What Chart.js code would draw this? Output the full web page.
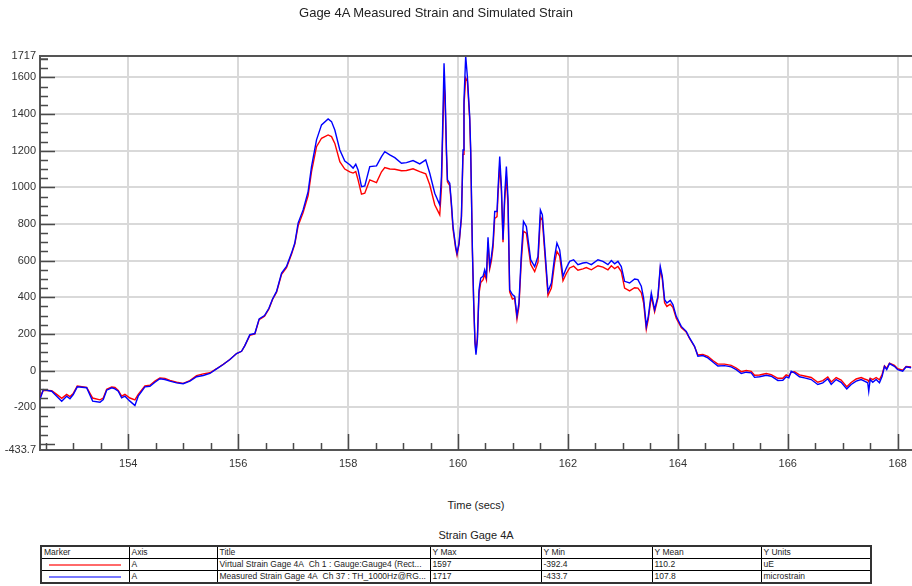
<!DOCTYPE html>
<html><head><meta charset="utf-8">
<script src="https://cdn.jsdelivr.net/npm/chart.js@4.4.1/dist/chart.umd.min.js"></script>
<style>
body{margin:0;background:#fff;font-family:"Liberation Sans",Arial,sans-serif;color:#222}
#wrap{position:relative;width:912px;height:586px;overflow:hidden}
canvas{position:absolute;left:0;top:0}
#title{position:absolute;left:0;width:872px;top:5px;text-align:center;font-size:13px}
#xt{position:absolute;left:40px;width:872px;top:499px;text-align:center;font-size:11px}
#tt{position:absolute;left:40px;width:872px;top:529px;text-align:center;font-size:11px}
table{position:absolute;left:40px;top:545px;border-collapse:collapse;font-size:8.5px;table-layout:fixed;border:2px solid #333}
td{border:1px solid #000;height:11px;padding:0 2px;white-space:nowrap;overflow:hidden;line-height:11px}
.mk{display:block;height:2px;width:72px;margin-left:5px}
</style></head>
<body><div id="wrap">
<canvas id="c" width="912" height="470"></canvas>
<div id="title">Gage 4A Measured Strain and Simulated Strain</div>
<div id="xt">Time (secs)</div>
<div id="tt">Strain Gage 4A</div>
<table>
<colgroup><col style="width:88px"><col style="width:88px"><col style="width:213px"><col style="width:111px"><col style="width:111px"><col style="width:109px"><col style="width:110px"></colgroup>
<tr><td>Marker</td><td>Axis</td><td>Title</td><td>Y Max</td><td>Y Min</td><td>Y Mean</td><td>Y Units</td></tr>
<tr><td><span class="mk" style="background:#ff6a6a"></span></td><td>A</td><td>Virtual Strain Gage 4A&nbsp; Ch 1 : Gauge:Gauge4 (Rect...</td><td>1597</td><td>-392.4</td><td>110.2</td><td>uE</td></tr>
<tr><td><span class="mk" style="background:#7a7aff"></span></td><td>A</td><td>Measured Strain Gage 4A&nbsp; Ch 37 : TH_1000Hz@RG...</td><td>1717</td><td>-433.7</td><td>107.8</td><td>microstrain</td></tr>
</table>
</div>
<script>
const times = [152.395,152.455,152.608,152.699,152.79,152.88,152.94,153.0,153.073,153.244,153.353,153.486,153.546,153.608,153.699,153.759,153.819,153.88,153.94,154.031,154.122,154.182,154.304,154.395,154.486,154.577,154.668,154.759,154.88,155.0,155.122,155.244,155.364,155.486,155.608,155.728,155.85,155.971,156.062,156.122,156.213,156.304,156.382,156.48,156.56,156.626,156.699,156.79,156.88,156.971,157.031,157.091,157.182,157.273,157.335,157.426,157.517,157.637,157.699,157.759,157.85,157.94,158.031,158.091,158.14,158.182,158.244,158.304,158.395,158.517,158.608,158.668,158.759,158.85,158.971,159.062,159.182,159.304,159.413,159.486,159.577,159.668,159.699,159.717,159.746,159.764,159.79,159.808,159.85,159.88,159.91,159.958,159.982,160.019,160.062,160.091,160.109,160.14,160.171,160.213,160.231,160.262,160.286,160.309,160.327,160.353,160.382,160.413,160.455,160.486,160.517,160.546,160.577,160.608,160.637,160.668,160.71,160.728,160.759,160.79,160.819,160.85,160.88,160.91,160.94,160.99,161.031,161.073,161.109,161.15,161.191,161.244,161.322,161.395,161.455,161.499,161.535,161.577,161.637,161.699,161.759,161.8,161.85,161.91,161.971,162.031,162.104,162.182,162.273,162.334,162.426,162.546,162.637,162.728,162.79,162.85,162.91,162.971,163.031,163.122,163.213,163.273,163.335,163.377,163.426,163.462,163.517,163.577,163.637,163.68,163.717,163.759,163.8,163.862,163.91,163.971,164.062,164.153,164.213,164.304,164.364,164.455,164.546,164.637,164.728,164.85,164.971,165.062,165.153,165.244,165.335,165.395,165.486,165.608,165.699,165.819,165.91,165.971,166.019,166.062,166.122,166.213,166.304,166.426,166.546,166.637,166.728,166.79,166.88,166.971,167.073,167.153,167.244,167.335,167.395,167.455,167.473,167.499,167.546,167.608,167.668,167.717,167.759,167.8,167.85,167.94,168.0,168.091,168.153,168.244];
const measured = [-158,-104,-113,-140,-167,-140,-154,-131,-89,-94,-167,-173,-158,-107,-94,-100,-113,-149,-140,-167,-191,-140,-89,-86,-64,-45,-49,-58,-67,-72,-58,-34,-27,-16,9,33,60,93,105,136,196,202,282,300,340,391,432,532,568,641,696,805,877,977,1113,1259,1341,1373,1359,1313,1204,1144,1123,1105,1126,1095,1004,1008,1113,1117,1168,1195,1177,1162,1132,1135,1146,1128,1150,1077,968,905,1059,1277,1677,1531,1204,1041,1023,914,786,677,641,696,841,1204,1477,1717,1604,1386,1204,659,369,151,87,169,441,505,514,550,514,728,570,623,696,868,868,990,1168,1000,714,960,1113,940,441,415,405,300,369,623,814,786,605,568,623,877,850,677,432,478,623,696,659,514,560,596,605,578,587,590,578,605,596,578,601,583,596,568,487,478,500,496,460,396,241,296,423,332,405,568,514,387,369,383,360,296,241,214,178,132,78,82,69,47,25,27,20,5,-16,-9,-13,-37,-34,-26,-31,-54,-53,-34,-40,-4,-13,-34,-40,-49,-76,-67,-45,-76,-49,-64,-100,-76,-58,-49,-58,-67,-113,-49,-64,-49,-67,-31,23,5,38,23,5,-4,20,15];
const virtualStrain = [-145,-108,-110,-130,-152,-130,-142,-125,-85,-92,-150,-160,-150,-102,-90,-92,-108,-140,-130,-150,-160,-130,-84,-80,-58,-40,-43,-54,-64,-70,-55,-28,-18,-12,10,34,60,93,105,136,192,200,278,297,336,388,428,525,562,635,690,790,862,955,1086,1222,1268,1286,1277,1240,1140,1100,1085,1078,1086,1041,963,968,1041,1026,1085,1108,1100,1099,1091,1092,1101,1086,1074,1014,905,850,1000,1230,1550,1500,1180,1030,1010,900,770,665,630,690,830,1180,1450,1597,1580,1370,1190,650,360,160,100,180,420,480,495,525,495,700,555,600,670,830,840,960,1120,980,700,930,1060,900,430,390,395,280,350,590,760,750,580,540,590,840,820,650,410,450,590,650,625,490,530,560,570,548,555,562,550,572,565,550,572,556,568,540,450,435,452,450,425,370,225,280,405,320,395,555,500,370,350,362,345,285,235,210,175,130,85,88,78,55,35,35,28,14,-6,0,-4,-26,-24,-16,-22,-42,-42,-24,-30,-10,-6,-24,-30,-38,-64,-55,-35,-62,-38,-52,-88,-65,-46,-38,-46,-52,-60,-42,-50,-38,-50,-20,25,12,40,28,10,2,22,20];
const xTickLabels = [154,156,158,160,162,164,166,168];
const yTickLabels = [-433.7,-200,0,200,400,600,800,1000,1200,1400,1600,1717];
const X_MIN = 152.395, X_MAX = 168.26, Y_MIN = -433.7, Y_MAX = 1717;

const FONT = {family:'"Liberation Sans", Arial, sans-serif', size:11};
const minorTicks = {
  id:'minorTicks',
  afterDraw(c){
    const {ctx, chartArea:a, scales:{x,y}} = c;
    ctx.save();
    ctx.strokeStyle = '#4a4a4a'; ctx.lineWidth = 1.5;
    ctx.beginPath();
    for (let v = -400; v <= 1700; v += 50) {
      const py = Math.round(y.getPixelForValue(v)) + 0.5;
      const len = (v % 200 === 0) ? 15 : 8;
      ctx.moveTo(a.left, py); ctx.lineTo(a.left + len, py);
    }
    ctx.moveTo(a.left, y.getPixelForValue(Y_MAX)+3); ctx.lineTo(a.left+8, y.getPixelForValue(Y_MAX)+3);
    for (let t = 152.5; t <= 168.001; t += 0.5) {
      const px = Math.round(x.getPixelForValue(t)) + 0.5;
      const len = xTickLabels.includes(Math.round(t*10)/10) ? 16 : 7;
      ctx.moveTo(px, a.bottom); ctx.lineTo(px, a.bottom - len);
    }
    ctx.stroke();
    ctx.lineWidth = 2; ctx.strokeStyle = '#555';
    ctx.beginPath(); ctx.moveTo(a.left, a.top); ctx.lineTo(a.right, a.top); ctx.stroke();
    ctx.restore();
  }
};

new Chart(document.getElementById('c'), {
  type:'line',
  data:{datasets:[
    {label:'Measured Strain Gage 4A', data: times.map((t,i)=>({x:t,y:measured[i]})), borderColor:'#0000ff', borderWidth:1.4, pointRadius:0, tension:0, order:0},
    {label:'Virtual Strain Gage 4A', data: times.map((t,i)=>({x:t,y:virtualStrain[i]})), borderColor:'#ff0000', borderWidth:1.4, pointRadius:0, tension:0, order:1}
  ]},
  options:{
    responsive:false, animation:false,
    layout:{padding:{top:56,left:0,right:0,bottom:0}},
    plugins:{legend:{display:false}, title:{display:false}, tooltip:{enabled:false}},
    scales:{
      x:{type:'linear', min:X_MIN, max:X_MAX,
        afterBuildTicks:s=>{s.ticks = xTickLabels.map(v=>({value:v}));},
        afterFit:s=>{s.height = 20; s.paddingLeft = 0; s.paddingRight = 0;},
        grid:{color:'#d9d9d9', lineWidth:2, drawTicks:false},
        border:{display:true, color:'#555', width:2},
        ticks:{padding:7, color:'#333', font:FONT, maxRotation:0, autoSkip:false, callback:v=>String(v)}
      },
      y:{min:Y_MIN, max:Y_MAX,
        afterBuildTicks:s=>{s.ticks = yTickLabels.map(v=>({value:v}));},
        afterFit:s=>{s.width = 40; s.paddingTop = 0; s.paddingBottom = 0;},
        grid:{color:ctx=> (ctx.tick && (ctx.tick.value===Y_MIN || ctx.tick.value===Y_MAX)) ? 'rgba(0,0,0,0)' : '#d9d9d9', lineWidth:2, drawTicks:false},
        border:{display:true, color:'#555', width:2},
        ticks:{padding:4, color:'#333', font:FONT, autoSkip:false, callback:v=>String(v)}
      }
    }
  },
  plugins:[minorTicks]
});
</script>
</body></html>
